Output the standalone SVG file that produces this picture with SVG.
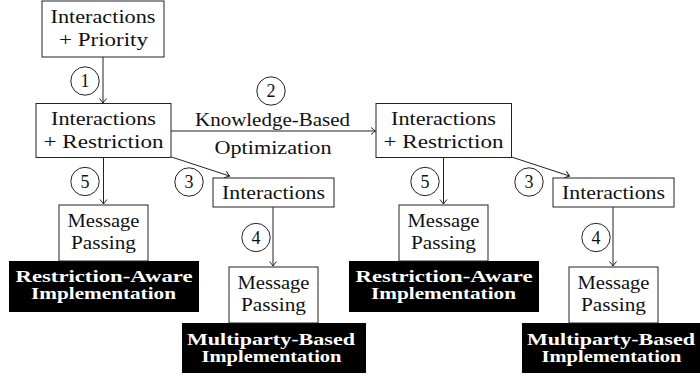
<svg xmlns="http://www.w3.org/2000/svg" width="700" height="379" viewBox="0 0 700 379">
<style>
.box{fill:#fff;stroke:#222;stroke-width:1}
.blk{fill:#000;stroke:none}
.t{font-family:"Liberation Serif","DejaVu Serif",serif;font-size:18px;fill:#111;text-anchor:middle}
.b{font-family:"Liberation Serif","DejaVu Serif",serif;font-size:16.5px;font-weight:bold;fill:#fff;text-anchor:middle}
.c{fill:none;stroke:#222;stroke-width:1}
.e{fill:none;stroke:#222;stroke-width:1;marker-end:url(#ah)}
</style>
<defs>
<marker id="ah" markerUnits="userSpaceOnUse" markerWidth="12" markerHeight="12" viewBox="-6 -6 12 12" refX="0" refY="0" orient="auto">
<path d="M-4.5,-3.5 Q-1.5,-1 0,0 Q-1.5,1 -4.5,3.5" fill="none" stroke="#222" stroke-width="1"/>
</marker>
</defs>
<g id="connectors">
<line class="e" x1="103" y1="57" x2="103" y2="103"/>
<line class="e" x1="171" y1="131" x2="375.5" y2="131"/>
<line class="e" x1="103.5" y1="157.5" x2="103.5" y2="204"/>
<line class="e" x1="171.5" y1="157" x2="229.5" y2="176"/>
<line class="e" x1="273" y1="207" x2="273" y2="266"/>
<line class="e" x1="443.5" y1="157.5" x2="443.5" y2="204"/>
<line class="e" x1="511.5" y1="157" x2="569.5" y2="176"/>
<line class="e" x1="613" y1="207" x2="613" y2="266"/>
<circle class="c" cx="85" cy="81" r="14.2"/>
<text class="t" x="85" y="87">1</text>
<circle class="c" cx="271" cy="91" r="14.2"/>
<text class="t" x="271" y="97">2</text>
<text class="t" x="272.5" y="125.5" textLength="155" lengthAdjust="spacingAndGlyphs">Knowledge-Based</text>
<text class="t" x="273" y="153.5" textLength="117" lengthAdjust="spacingAndGlyphs">Optimization</text>
<circle class="c" cx="85" cy="181.5" r="14.2"/>
<text class="t" x="85" y="187.5">5</text>
<circle class="c" cx="189" cy="182" r="14.2"/>
<text class="t" x="189" y="188">3</text>
<circle class="c" cx="256" cy="237.5" r="14.2"/>
<text class="t" x="256" y="243.5">4</text>
<circle class="c" cx="425" cy="181.5" r="14.2"/>
<text class="t" x="425" y="187.5">5</text>
<circle class="c" cx="529" cy="182" r="14.2"/>
<text class="t" x="529" y="188">3</text>
<circle class="c" cx="596" cy="237.5" r="14.2"/>
<text class="t" x="596" y="243.5">4</text>
</g>
<g id="n-priority">
<rect class="box" x="42" y="1" width="122" height="56"/>
<text class="t" x="103" y="22.7" textLength="105" lengthAdjust="spacingAndGlyphs">Interactions</text>
<text class="t" x="103.5" y="45.7" textLength="89" lengthAdjust="spacingAndGlyphs">+ Priority</text>
</g>
<g id="n-restriction-1">
<rect class="box" x="36" y="103.5" width="135" height="54"/>
<text class="t" x="103.5" y="125" textLength="105" lengthAdjust="spacingAndGlyphs">Interactions</text>
<text class="t" x="103.5" y="148.3" textLength="120" lengthAdjust="spacingAndGlyphs">+ Restriction</text>
</g>
<g id="n-restriction-2">
<rect class="box" x="376" y="103.5" width="135.5" height="54"/>
<text class="t" x="443.5" y="125" textLength="105" lengthAdjust="spacingAndGlyphs">Interactions</text>
<text class="t" x="443.5" y="148.3" textLength="120" lengthAdjust="spacingAndGlyphs">+ Restriction</text>
</g>
<g id="n-mp-ra-1">
<rect class="blk" x="9" y="261" width="190" height="51"/>
<rect class="box" x="59" y="205" width="89" height="56"/>
<text class="t" x="103.5" y="226.7" textLength="72" lengthAdjust="spacingAndGlyphs">Message</text>
<text class="t" x="103.5" y="249" textLength="65" lengthAdjust="spacingAndGlyphs">Passing</text>
<text class="b" x="104" y="281.7" textLength="177" lengthAdjust="spacingAndGlyphs">Restriction-Aware</text>
<text class="b" x="103.5" y="299.3" textLength="145" lengthAdjust="spacingAndGlyphs">Implementation</text>
</g>
<g id="n-mp-ra-2">
<rect class="blk" x="349" y="261" width="190" height="51"/>
<rect class="box" x="399" y="205" width="89" height="56"/>
<text class="t" x="443.5" y="226.7" textLength="72" lengthAdjust="spacingAndGlyphs">Message</text>
<text class="t" x="443.5" y="249" textLength="65" lengthAdjust="spacingAndGlyphs">Passing</text>
<text class="b" x="444" y="281.7" textLength="177" lengthAdjust="spacingAndGlyphs">Restriction-Aware</text>
<text class="b" x="443.5" y="299.3" textLength="145" lengthAdjust="spacingAndGlyphs">Implementation</text>
</g>
<g id="n-interactions-1">
<rect class="box" x="213" y="178" width="121" height="29"/>
<text class="t" x="273.5" y="199" textLength="103" lengthAdjust="spacingAndGlyphs">Interactions</text>
</g>
<g id="n-interactions-2">
<rect class="box" x="553" y="178" width="121" height="29"/>
<text class="t" x="613.5" y="199" textLength="103" lengthAdjust="spacingAndGlyphs">Interactions</text>
</g>
<g id="n-mp-mb-1">
<rect class="blk" x="182" y="323" width="184" height="50"/>
<rect class="box" x="229" y="267" width="89" height="56"/>
<text class="t" x="273.5" y="288.7" textLength="72" lengthAdjust="spacingAndGlyphs">Message</text>
<text class="t" x="273.5" y="311" textLength="65" lengthAdjust="spacingAndGlyphs">Passing</text>
<text class="b" x="271" y="344.5" textLength="168" lengthAdjust="spacingAndGlyphs">Multiparty-Based</text>
<text class="b" x="271.5" y="362" textLength="140" lengthAdjust="spacingAndGlyphs">Implementation</text>
</g>
<g id="n-mp-mb-2">
<rect class="blk" x="522" y="323" width="184" height="50"/>
<rect class="box" x="569" y="267" width="89" height="56"/>
<text class="t" x="613.5" y="288.7" textLength="72" lengthAdjust="spacingAndGlyphs">Message</text>
<text class="t" x="613.5" y="311" textLength="65" lengthAdjust="spacingAndGlyphs">Passing</text>
<text class="b" x="611" y="344.5" textLength="168" lengthAdjust="spacingAndGlyphs">Multiparty-Based</text>
<text class="b" x="611.5" y="362" textLength="140" lengthAdjust="spacingAndGlyphs">Implementation</text>
</g>
</svg>
